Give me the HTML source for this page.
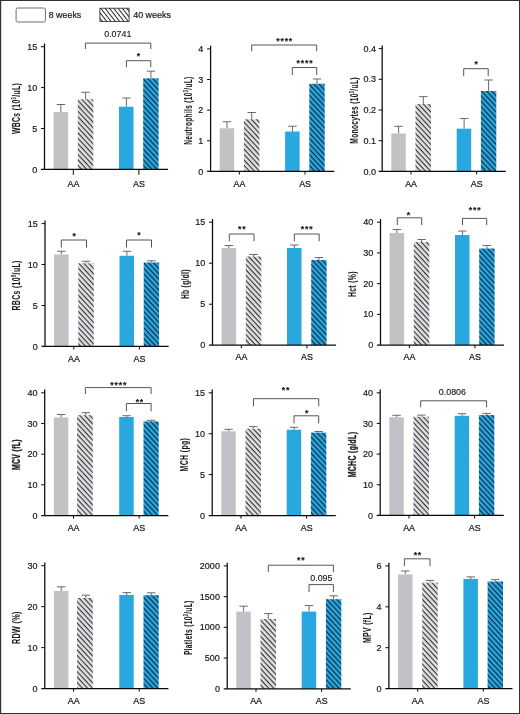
<!DOCTYPE html>
<html lang="en"><head><meta charset="utf-8"><title>Blood counts at 8 and 40 weeks</title>
<style>html,body{margin:0;padding:0;background:#fff;}body{width:520px;height:714px;overflow:hidden;}svg{display:block;}text{font-family:"Liberation Sans", Arial, Helvetica, sans-serif;fill:#161616;stroke:#161616;stroke-width:0.18px;}</style>
</head><body>
<svg width="520" height="714" viewBox="0 0 520 714" role="img" aria-label="Blood count bar charts for AA and AS mice at 8 and 40 weeks">
<defs>
<pattern id="hg" width="3.68" height="3.68" patternUnits="userSpaceOnUse" patternTransform="rotate(47)"><rect width="3.68" height="3.68" fill="#dedee0"/><rect y="0" width="3.68" height="1.05" fill="#2e2e30"/></pattern>
<pattern id="hb" width="3.68" height="3.68" patternUnits="userSpaceOnUse" patternTransform="rotate(47)"><rect width="3.68" height="3.68" fill="#2ca8de"/><rect y="0" width="3.68" height="1.2" fill="#062c49"/></pattern>
<pattern id="hw" width="3.4" height="3.4" patternUnits="userSpaceOnUse" patternTransform="rotate(52)"><rect width="3.4" height="3.4" fill="#ffffff"/><rect y="0" width="3.4" height="0.95" fill="#1c1c1c"/></pattern>
</defs>
<rect x="0" y="0" width="520" height="714" fill="#fff"/>
<rect x="0.5" y="0.5" width="519" height="713" fill="none" stroke="#333" stroke-width="1"/>
<rect x="0" y="0" width="1.2" height="714" fill="#333"/>
<g id="legend">
<rect x="16.1" y="8" width="29.3" height="14" rx="1.6" fill="#fff" stroke="#6e6e6e" stroke-width="1"/>
<text x="48.7" y="17.9" font-size="8.8" textLength="32.6" lengthAdjust="spacingAndGlyphs">8 weeks</text>
<rect x="99.9" y="8.2" width="29.2" height="13.2" fill="url(#hw)" stroke="#222" stroke-width="0.8"/>
<text x="133.2" y="17.9" font-size="8.8" textLength="37.8" lengthAdjust="spacingAndGlyphs">40 weeks</text>
</g>
<g id="chart-WBCs">
<path d="M60.9 112V104.5M56.7 104.5H65.1" stroke="#6a6a6a" stroke-width="1" fill="none"/>
<rect x="53.6" y="112" width="14.5" height="57.4" fill="#c2c1c6"/>
<path d="M85.6 99.25V92.25M81.4 92.25H89.8" stroke="#6a6a6a" stroke-width="1" fill="none"/>
<rect x="77.8" y="99.25" width="15.5" height="70.15" fill="url(#hg)"/>
<path d="M126.4 106.75V98M122.2 98H130.6" stroke="#6a6a6a" stroke-width="1" fill="none"/>
<rect x="119" y="106.75" width="14.5" height="62.65" fill="#29a8e0"/>
<path d="M150.9 78.3V71.2M146.7 71.2H155.1" stroke="#6a6a6a" stroke-width="1" fill="none"/>
<rect x="143.2" y="78.3" width="15.4" height="91.1" fill="url(#hb)"/>
<path d="M44.5 43.5V169.4M41 169.4H168.1" stroke="#0a0a0a" stroke-width="1.25" fill="none"/>
<path d="M41 128.5H44.5M41 87.6H44.5M41 46.7H44.5M73.3 169.4V174.8M138.9 169.4V174.8" stroke="#0a0a0a" stroke-width="1" fill="none"/>
<text x="37.2" y="172.5" font-size="9.0" text-anchor="end">0</text>
<text x="37.2" y="131.6" font-size="9.0" text-anchor="end">5</text>
<text x="37.2" y="90.7" font-size="9.0" text-anchor="end">10</text>
<text x="37.2" y="49.8" font-size="9.0" text-anchor="end">15</text>
<text transform="translate(73.4 186.5) scale(0.9 1)" font-size="9.9" text-anchor="middle" style="stroke-width:0.25px">AA</text>
<text transform="translate(139 186.5) scale(0.9 1)" font-size="9.9" text-anchor="middle" style="stroke-width:0.25px">AS</text>
<text transform="translate(20.3 108.47) rotate(-90) scale(0.6392 1)" font-size="10.7" font-weight="bold" letter-spacing="0.55" text-anchor="middle" style="stroke-width:0.05px">WBCs (10<tspan font-size="6.3" dy="-4">3</tspan><tspan dy="4">/uL)</tspan></text>
<path d="M85.4 49V43.1H150.8V49" stroke="#555555" stroke-width="1" fill="none"/>
<text x="117.8" y="37.25" font-size="8.9" text-anchor="middle" style="stroke-width:0.12px">0.0741</text>
<path d="M126.4 67.2V60.7H150.8V67.2" stroke="#555555" stroke-width="1" fill="none"/>
<text x="138.95" y="59.1" font-size="8.6" font-weight="bold" letter-spacing="0.85" text-anchor="middle" style="stroke-width:0.15px">*</text>
</g>
<g id="chart-Neut">
<path d="M227 128.25V121.75M222.8 121.75H231.2" stroke="#6a6a6a" stroke-width="1" fill="none"/>
<rect x="219.7" y="128.25" width="14.5" height="43.15" fill="#c2c1c6"/>
<path d="M251.7 119.25V112.5M247.5 112.5H255.9" stroke="#6a6a6a" stroke-width="1" fill="none"/>
<rect x="243.9" y="119.25" width="15.5" height="52.15" fill="url(#hg)"/>
<path d="M292.5 131.5V126.25M288.3 126.25H296.7" stroke="#6a6a6a" stroke-width="1" fill="none"/>
<rect x="285.1" y="131.5" width="14.5" height="39.9" fill="#29a8e0"/>
<path d="M317 83.75V79M312.8 79H321.2" stroke="#6a6a6a" stroke-width="1" fill="none"/>
<rect x="309.3" y="83.75" width="15.4" height="87.65" fill="url(#hb)"/>
<path d="M210.6 45.7V171.4M207.1 171.4H334.2" stroke="#0a0a0a" stroke-width="1.25" fill="none"/>
<path d="M207.1 140.78H210.6M207.1 110.15H210.6M207.1 79.53H210.6M207.1 48.9H210.6M239.4 171.4V174.5M305 171.4V174.5" stroke="#0a0a0a" stroke-width="1" fill="none"/>
<text x="203.3" y="174.5" font-size="9.0" text-anchor="end">0</text>
<text x="203.3" y="143.88" font-size="9.0" text-anchor="end">1</text>
<text x="203.3" y="113.25" font-size="9.0" text-anchor="end">2</text>
<text x="203.3" y="82.62" font-size="9.0" text-anchor="end">3</text>
<text x="203.3" y="52" font-size="9.0" text-anchor="end">4</text>
<text transform="translate(239.5 186.6) scale(0.9 1)" font-size="9.9" text-anchor="middle" style="stroke-width:0.25px">AA</text>
<text transform="translate(305.1 186.6) scale(0.9 1)" font-size="9.9" text-anchor="middle" style="stroke-width:0.25px">AS</text>
<text transform="translate(192 110.58) rotate(-90) scale(0.6106 1)" font-size="10.7" font-weight="bold" letter-spacing="0.55" text-anchor="middle" style="stroke-width:0.05px">Neutrophils (10<tspan font-size="6.3" dy="-4">3</tspan><tspan dy="4">/uL)</tspan></text>
<path d="M251.7 51.2V45H316.7V51.2" stroke="#555555" stroke-width="1" fill="none"/>
<text x="284.65" y="43.7" font-size="8.6" font-weight="bold" letter-spacing="0.85" text-anchor="middle" style="stroke-width:0.15px">****</text>
<path d="M292.3 75V67.5H316.7V75" stroke="#555555" stroke-width="1" fill="none"/>
<text x="304.95" y="65.8" font-size="8.6" font-weight="bold" letter-spacing="0.85" text-anchor="middle" style="stroke-width:0.15px">****</text>
</g>
<g id="chart-Mono">
<path d="M398.6 133.5V126.3M394.4 126.3H402.8" stroke="#6a6a6a" stroke-width="1" fill="none"/>
<rect x="391.3" y="133.5" width="14.5" height="37.9" fill="#c2c1c6"/>
<path d="M423.3 104V96.6M419.1 96.6H427.5" stroke="#6a6a6a" stroke-width="1" fill="none"/>
<rect x="415.5" y="104" width="15.5" height="67.4" fill="url(#hg)"/>
<path d="M464.1 128.7V118.5M459.9 118.5H468.3" stroke="#6a6a6a" stroke-width="1" fill="none"/>
<rect x="456.7" y="128.7" width="14.5" height="42.7" fill="#29a8e0"/>
<path d="M488.6 91V80M484.4 80H492.8" stroke="#6a6a6a" stroke-width="1" fill="none"/>
<rect x="480.9" y="91" width="15.4" height="80.4" fill="url(#hb)"/>
<path d="M382.2 45.4V171.4M378.7 171.4H505.8" stroke="#0a0a0a" stroke-width="1.25" fill="none"/>
<path d="M378.7 140.7H382.2M378.7 110H382.2M378.7 79.3H382.2M378.7 48.6H382.2M411 171.4V174.5M476.6 171.4V174.5" stroke="#0a0a0a" stroke-width="1" fill="none"/>
<text x="376" y="174.5" font-size="9.0" text-anchor="end">0.0</text>
<text x="376" y="143.8" font-size="9.0" text-anchor="end">0.1</text>
<text x="376" y="113.1" font-size="9.0" text-anchor="end">0.2</text>
<text x="376" y="82.4" font-size="9.0" text-anchor="end">0.3</text>
<text x="376" y="51.7" font-size="9.0" text-anchor="end">0.4</text>
<text transform="translate(411.1 186.6) scale(0.9 1)" font-size="9.9" text-anchor="middle" style="stroke-width:0.25px">AA</text>
<text transform="translate(476.7 186.6) scale(0.9 1)" font-size="9.9" text-anchor="middle" style="stroke-width:0.25px">AS</text>
<text transform="translate(357.9 110.43) rotate(-90) scale(0.6212 1)" font-size="10.7" font-weight="bold" letter-spacing="0.55" text-anchor="middle" style="stroke-width:0.05px">Monocytes (10<tspan font-size="6.3" dy="-4">3</tspan><tspan dy="4">/uL)</tspan></text>
<path d="M463.7 76.2V68.7H488.2V76.2" stroke="#555555" stroke-width="1" fill="none"/>
<text x="476.65" y="66.9" font-size="8.6" font-weight="bold" letter-spacing="0.85" text-anchor="middle" style="stroke-width:0.15px">*</text>
</g>
<g id="chart-RBCs">
<path d="M61.4 254.5V251.25M57.2 251.25H65.6" stroke="#6a6a6a" stroke-width="1" fill="none"/>
<rect x="54.1" y="254.5" width="14.5" height="91.9" fill="#c2c1c6"/>
<path d="M86.1 263.25V261.25M81.9 261.25H90.3" stroke="#6a6a6a" stroke-width="1" fill="none"/>
<rect x="78.3" y="263.25" width="15.5" height="83.15" fill="url(#hg)"/>
<path d="M126.9 255.75V251.25M122.7 251.25H131.1" stroke="#6a6a6a" stroke-width="1" fill="none"/>
<rect x="119.5" y="255.75" width="14.5" height="90.65" fill="#29a8e0"/>
<path d="M151.4 262.5V260.75M147.2 260.75H155.6" stroke="#6a6a6a" stroke-width="1" fill="none"/>
<rect x="143.7" y="262.5" width="15.4" height="83.9" fill="url(#hb)"/>
<path d="M45 220.4V346.4M41.5 346.4H168.6" stroke="#0a0a0a" stroke-width="1.25" fill="none"/>
<path d="M41.5 305.47H45M41.5 264.53H45M41.5 223.6H45M73.8 346.4V349.5M139.4 346.4V349.5" stroke="#0a0a0a" stroke-width="1" fill="none"/>
<text x="37.7" y="349.5" font-size="9.0" text-anchor="end">0</text>
<text x="37.7" y="308.57" font-size="9.0" text-anchor="end">5</text>
<text x="37.7" y="267.63" font-size="9.0" text-anchor="end">10</text>
<text x="37.7" y="226.7" font-size="9.0" text-anchor="end">15</text>
<text transform="translate(73.9 361.6) scale(0.9 1)" font-size="9.9" text-anchor="middle" style="stroke-width:0.25px">AA</text>
<text transform="translate(139.5 361.6) scale(0.9 1)" font-size="9.9" text-anchor="middle" style="stroke-width:0.25px">AS</text>
<text transform="translate(20.3 285.42) rotate(-90) scale(0.6446 1)" font-size="10.7" font-weight="bold" letter-spacing="0.55" text-anchor="middle" style="stroke-width:0.05px">RBCs (10<tspan font-size="6.3" dy="-4">6</tspan><tspan dy="4">/uL)</tspan></text>
<path d="M61.3 247.5V240H86.5V247.5" stroke="#555555" stroke-width="1" fill="none"/>
<text x="74.65" y="238.6" font-size="8.6" font-weight="bold" letter-spacing="0.85" text-anchor="middle" style="stroke-width:0.15px">*</text>
<path d="M126.5 247.5V240H151.5V247.5" stroke="#555555" stroke-width="1" fill="none"/>
<text x="139.45" y="238.4" font-size="8.6" font-weight="bold" letter-spacing="0.85" text-anchor="middle" style="stroke-width:0.15px">*</text>
</g>
<g id="chart-Hb">
<path d="M228.9 248V245.5M224.7 245.5H233.1" stroke="#6a6a6a" stroke-width="1" fill="none"/>
<rect x="221.6" y="248" width="14.5" height="97.2" fill="#c2c1c6"/>
<path d="M253.6 256.5V254.5M249.4 254.5H257.8" stroke="#6a6a6a" stroke-width="1" fill="none"/>
<rect x="245.8" y="256.5" width="15.5" height="88.7" fill="url(#hg)"/>
<path d="M294.4 248V245M290.2 245H298.6" stroke="#6a6a6a" stroke-width="1" fill="none"/>
<rect x="287" y="248" width="14.5" height="97.2" fill="#29a8e0"/>
<path d="M318.9 260V257.5M314.7 257.5H323.1" stroke="#6a6a6a" stroke-width="1" fill="none"/>
<rect x="311.2" y="260" width="15.4" height="85.2" fill="url(#hb)"/>
<path d="M212.5 219V345.2M209 345.2H336.1" stroke="#0a0a0a" stroke-width="1.25" fill="none"/>
<path d="M209 304.2H212.5M209 263.2H212.5M209 222.2H212.5M241.3 345.2V348.3M306.9 345.2V348.3" stroke="#0a0a0a" stroke-width="1" fill="none"/>
<text x="205.2" y="348.3" font-size="9.0" text-anchor="end">0</text>
<text x="205.2" y="307.3" font-size="9.0" text-anchor="end">5</text>
<text x="205.2" y="266.3" font-size="9.0" text-anchor="end">10</text>
<text x="205.2" y="225.3" font-size="9.0" text-anchor="end">15</text>
<text transform="translate(241.4 360.4) scale(0.9 1)" font-size="9.9" text-anchor="middle" style="stroke-width:0.25px">AA</text>
<text transform="translate(307 360.4) scale(0.9 1)" font-size="9.9" text-anchor="middle" style="stroke-width:0.25px">AS</text>
<text transform="translate(189.1 284.13) rotate(-90) scale(0.6180 1)" font-size="10.7" font-weight="bold" letter-spacing="0.55" text-anchor="middle" style="stroke-width:0.05px">Hb (g/dl)</text>
<path d="M229.3 241.3V234H254V241.3" stroke="#555555" stroke-width="1" fill="none"/>
<text x="242.15" y="232.4" font-size="8.6" font-weight="bold" letter-spacing="0.85" text-anchor="middle" style="stroke-width:0.15px">**</text>
<path d="M294.3 241.3V234H319.2V241.3" stroke="#555555" stroke-width="1" fill="none"/>
<text x="307.15" y="232.4" font-size="8.6" font-weight="bold" letter-spacing="0.85" text-anchor="middle" style="stroke-width:0.15px">***</text>
</g>
<g id="chart-Hct">
<path d="M396.9 233V229.5M392.7 229.5H401.1" stroke="#6a6a6a" stroke-width="1" fill="none"/>
<rect x="389.6" y="233" width="14.5" height="112.1" fill="#c2c1c6"/>
<path d="M421.6 242V239.5M417.4 239.5H425.8" stroke="#6a6a6a" stroke-width="1" fill="none"/>
<rect x="413.8" y="242" width="15.5" height="103.1" fill="url(#hg)"/>
<path d="M462.4 235V231M458.2 231H466.6" stroke="#6a6a6a" stroke-width="1" fill="none"/>
<rect x="455" y="235" width="14.5" height="110.1" fill="#29a8e0"/>
<path d="M486.9 248.5V245.5M482.7 245.5H491.1" stroke="#6a6a6a" stroke-width="1" fill="none"/>
<rect x="479.2" y="248.5" width="15.4" height="96.6" fill="url(#hb)"/>
<path d="M380.5 219V345.1M377 345.1H504.1" stroke="#0a0a0a" stroke-width="1.25" fill="none"/>
<path d="M377 314.38H380.5M377 283.65H380.5M377 252.93H380.5M377 222.2H380.5M409.3 345.1V348.2M474.9 345.1V348.2" stroke="#0a0a0a" stroke-width="1" fill="none"/>
<text x="373.2" y="348.2" font-size="9.0" text-anchor="end">0</text>
<text x="373.2" y="317.48" font-size="9.0" text-anchor="end">10</text>
<text x="373.2" y="286.75" font-size="9.0" text-anchor="end">20</text>
<text x="373.2" y="256.03" font-size="9.0" text-anchor="end">30</text>
<text x="373.2" y="225.3" font-size="9.0" text-anchor="end">40</text>
<text transform="translate(409.4 360.3) scale(0.9 1)" font-size="9.9" text-anchor="middle" style="stroke-width:0.25px">AA</text>
<text transform="translate(475 360.3) scale(0.9 1)" font-size="9.9" text-anchor="middle" style="stroke-width:0.25px">AS</text>
<text transform="translate(356.1 284.07) rotate(-90) scale(0.6391 1)" font-size="10.7" font-weight="bold" letter-spacing="0.55" text-anchor="middle" style="stroke-width:0.05px">Hct (%)</text>
<path d="M397.3 225V217.8H421.7V225" stroke="#555555" stroke-width="1" fill="none"/>
<text x="408.85" y="218.2" font-size="8.6" font-weight="bold" letter-spacing="0.85" text-anchor="middle" style="stroke-width:0.15px">*</text>
<path d="M462.5 225V218.4H486.7V225" stroke="#555555" stroke-width="1" fill="none"/>
<text x="475.05" y="213.2" font-size="8.6" font-weight="bold" letter-spacing="0.85" text-anchor="middle" style="stroke-width:0.15px">***</text>
</g>
<g id="chart-MCV">
<path d="M61.1 417.5V414.5M56.9 414.5H65.3" stroke="#6a6a6a" stroke-width="1" fill="none"/>
<rect x="53.8" y="417.5" width="14.5" height="98" fill="#c2c1c6"/>
<path d="M85.8 415.1V412.7M81.6 412.7H90" stroke="#6a6a6a" stroke-width="1" fill="none"/>
<rect x="77.1" y="415.1" width="15.7" height="100.4" fill="url(#hg)"/>
<path d="M126.6 417V415.7M122.4 415.7H130.8" stroke="#6a6a6a" stroke-width="1" fill="none"/>
<rect x="119.2" y="417" width="14.5" height="98.5" fill="#29a8e0"/>
<path d="M151.1 421.4V420.3M146.9 420.3H155.3" stroke="#6a6a6a" stroke-width="1" fill="none"/>
<rect x="143.5" y="421.4" width="15.2" height="94.1" fill="url(#hb)"/>
<path d="M44.7 389.6V515.5M41.2 515.5H168.3" stroke="#0a0a0a" stroke-width="1.25" fill="none"/>
<path d="M41.2 484.82H44.7M41.2 454.15H44.7M41.2 423.48H44.7M41.2 392.8H44.7M73.5 515.5V518.6M139.1 515.5V518.6" stroke="#0a0a0a" stroke-width="1" fill="none"/>
<text x="37.4" y="518.6" font-size="9.0" text-anchor="end">0</text>
<text x="37.4" y="487.93" font-size="9.0" text-anchor="end">10</text>
<text x="37.4" y="457.25" font-size="9.0" text-anchor="end">20</text>
<text x="37.4" y="426.58" font-size="9.0" text-anchor="end">30</text>
<text x="37.4" y="395.9" font-size="9.0" text-anchor="end">40</text>
<text transform="translate(73.6 530.7) scale(0.9 1)" font-size="9.9" text-anchor="middle" style="stroke-width:0.25px">AA</text>
<text transform="translate(139.2 530.7) scale(0.9 1)" font-size="9.9" text-anchor="middle" style="stroke-width:0.25px">AS</text>
<text transform="translate(20.4 454.57) rotate(-90) scale(0.6440 1)" font-size="10.7" font-weight="bold" letter-spacing="0.55" text-anchor="middle" style="stroke-width:0.35px">MCV (fL)</text>
<path d="M85.4 394V387.6H151.1V394" stroke="#555555" stroke-width="1" fill="none"/>
<text x="118.75" y="387.7" font-size="8.6" font-weight="bold" letter-spacing="0.85" text-anchor="middle" style="stroke-width:0.15px">****</text>
<path d="M126.4 411.3V403.5H151.1V411.3" stroke="#555555" stroke-width="1" fill="none"/>
<text x="139.85" y="405" font-size="8.6" font-weight="bold" letter-spacing="0.85" text-anchor="middle" style="stroke-width:0.15px">**</text>
</g>
<g id="chart-MCH">
<path d="M228.6 431.3V429.3M224.4 429.3H232.8" stroke="#6a6a6a" stroke-width="1" fill="none"/>
<rect x="221.3" y="431.3" width="14.5" height="84.2" fill="#c2c1c6"/>
<path d="M253.3 428.6V426.6M249.1 426.6H257.5" stroke="#6a6a6a" stroke-width="1" fill="none"/>
<rect x="245.5" y="428.6" width="15.5" height="86.9" fill="url(#hg)"/>
<path d="M294.1 429.7V427.3M289.9 427.3H298.3" stroke="#6a6a6a" stroke-width="1" fill="none"/>
<rect x="286.7" y="429.7" width="14.5" height="85.8" fill="#29a8e0"/>
<path d="M318.6 432.6V431.5M314.4 431.5H322.8" stroke="#6a6a6a" stroke-width="1" fill="none"/>
<rect x="310.9" y="432.6" width="15.4" height="82.9" fill="url(#hb)"/>
<path d="M212.2 389.6V515.5M208.7 515.5H335.8" stroke="#0a0a0a" stroke-width="1.25" fill="none"/>
<path d="M208.7 474.6H212.2M208.7 433.7H212.2M208.7 392.8H212.2M241 515.5V518.6M306.6 515.5V518.6" stroke="#0a0a0a" stroke-width="1" fill="none"/>
<text x="204.9" y="518.6" font-size="9.0" text-anchor="end">0</text>
<text x="204.9" y="477.7" font-size="9.0" text-anchor="end">5</text>
<text x="204.9" y="436.8" font-size="9.0" text-anchor="end">10</text>
<text x="204.9" y="395.9" font-size="9.0" text-anchor="end">15</text>
<text transform="translate(241.1 530.7) scale(0.9 1)" font-size="9.9" text-anchor="middle" style="stroke-width:0.25px">AA</text>
<text transform="translate(306.7 530.7) scale(0.9 1)" font-size="9.9" text-anchor="middle" style="stroke-width:0.25px">AS</text>
<text transform="translate(188.4 454.57) rotate(-90) scale(0.6493 1)" font-size="10.7" font-weight="bold" letter-spacing="0.55" text-anchor="middle" style="stroke-width:0.05px">MCH (pg)</text>
<path d="M253.5 406.3V398.7H318.7V406.3" stroke="#555555" stroke-width="1" fill="none"/>
<text x="285.95" y="393.1" font-size="8.6" font-weight="bold" letter-spacing="0.85" text-anchor="middle" style="stroke-width:0.15px">**</text>
<path d="M294 423.3V415.8H318.7V423.3" stroke="#555555" stroke-width="1" fill="none"/>
<text x="307.05" y="416.4" font-size="8.6" font-weight="bold" letter-spacing="0.85" text-anchor="middle" style="stroke-width:0.15px">*</text>
</g>
<g id="chart-MCHC">
<path d="M396.6 417.2V415.3M392.4 415.3H400.8" stroke="#6a6a6a" stroke-width="1" fill="none"/>
<rect x="389.3" y="417.2" width="14.5" height="98.2" fill="#c2c1c6"/>
<path d="M421.3 416.7V415.1M417.1 415.1H425.5" stroke="#6a6a6a" stroke-width="1" fill="none"/>
<rect x="413.5" y="416.7" width="15.5" height="98.7" fill="url(#hg)"/>
<path d="M462.1 415.8V413.7M457.9 413.7H466.3" stroke="#6a6a6a" stroke-width="1" fill="none"/>
<rect x="454.7" y="415.8" width="14.5" height="99.6" fill="#29a8e0"/>
<path d="M486.6 415.1V413.4M482.4 413.4H490.8" stroke="#6a6a6a" stroke-width="1" fill="none"/>
<rect x="478.9" y="415.1" width="15.4" height="100.3" fill="url(#hb)"/>
<path d="M380.2 389.6V515.4M376.7 515.4H503.8" stroke="#0a0a0a" stroke-width="1.25" fill="none"/>
<path d="M376.7 484.75H380.2M376.7 454.1H380.2M376.7 423.45H380.2M376.7 392.8H380.2M409 515.4V518.5M474.6 515.4V518.5" stroke="#0a0a0a" stroke-width="1" fill="none"/>
<text x="372.9" y="518.5" font-size="9.0" text-anchor="end">0</text>
<text x="372.9" y="487.85" font-size="9.0" text-anchor="end">10</text>
<text x="372.9" y="457.2" font-size="9.0" text-anchor="end">20</text>
<text x="372.9" y="426.55" font-size="9.0" text-anchor="end">30</text>
<text x="372.9" y="395.9" font-size="9.0" text-anchor="end">40</text>
<text transform="translate(409.1 530.6) scale(0.9 1)" font-size="9.9" text-anchor="middle" style="stroke-width:0.25px">AA</text>
<text transform="translate(474.7 530.6) scale(0.9 1)" font-size="9.9" text-anchor="middle" style="stroke-width:0.25px">AS</text>
<text transform="translate(356.1 454.52) rotate(-90) scale(0.6453 1)" font-size="10.7" font-weight="bold" letter-spacing="0.55" text-anchor="middle" style="stroke-width:0.3px">MCHC (g/dL)</text>
<path d="M420.7 407.3V400.8H486.6V407.3" stroke="#555555" stroke-width="1" fill="none"/>
<text x="452.4" y="394.65" font-size="8.9" text-anchor="middle" style="stroke-width:0.12px">0.0806</text>
</g>
<g id="chart-RDW">
<path d="M61.2 591V586.8M57 586.8H65.4" stroke="#6a6a6a" stroke-width="1" fill="none"/>
<rect x="53.9" y="591" width="14.5" height="97.6" fill="#c2c1c6"/>
<path d="M85.9 598V595.2M81.7 595.2H90.1" stroke="#6a6a6a" stroke-width="1" fill="none"/>
<rect x="77" y="598" width="15.8" height="90.6" fill="url(#hg)"/>
<path d="M126.7 595V592.6M122.5 592.6H130.9" stroke="#6a6a6a" stroke-width="1" fill="none"/>
<rect x="119.3" y="595" width="14.4" height="93.6" fill="#29a8e0"/>
<path d="M151.2 595.2V592.8M147 592.8H155.4" stroke="#6a6a6a" stroke-width="1" fill="none"/>
<rect x="143.5" y="595.2" width="15.2" height="93.4" fill="url(#hb)"/>
<path d="M44.8 562.5V688.6M41.3 688.6H168.4" stroke="#0a0a0a" stroke-width="1.25" fill="none"/>
<path d="M41.3 647.63H44.8M41.3 606.67H44.8M41.3 565.7H44.8M73.6 688.6V691.7M139.2 688.6V691.7" stroke="#0a0a0a" stroke-width="1" fill="none"/>
<text x="37.5" y="691.7" font-size="9.0" text-anchor="end">0</text>
<text x="37.5" y="650.73" font-size="9.0" text-anchor="end">10</text>
<text x="37.5" y="609.77" font-size="9.0" text-anchor="end">20</text>
<text x="37.5" y="568.8" font-size="9.0" text-anchor="end">30</text>
<text transform="translate(73.7 703.8) scale(0.9 1)" font-size="9.9" text-anchor="middle" style="stroke-width:0.25px">AA</text>
<text transform="translate(139.3 703.8) scale(0.9 1)" font-size="9.9" text-anchor="middle" style="stroke-width:0.25px">AS</text>
<text transform="translate(20.4 627.57) rotate(-90) scale(0.6706 1)" font-size="10.7" font-weight="bold" letter-spacing="0.55" text-anchor="middle" style="stroke-width:0.05px">RDW (%)</text>
</g>
<g id="chart-Plt">
<path d="M243.6 611.6V606.2M239.4 606.2H247.8" stroke="#6a6a6a" stroke-width="1" fill="none"/>
<rect x="236.3" y="611.6" width="14.5" height="77.2" fill="#c2c1c6"/>
<path d="M268.3 619V613.6M264.1 613.6H272.5" stroke="#6a6a6a" stroke-width="1" fill="none"/>
<rect x="260.5" y="619" width="15.5" height="69.8" fill="url(#hg)"/>
<path d="M309.1 611.6V605.6M304.9 605.6H313.3" stroke="#6a6a6a" stroke-width="1" fill="none"/>
<rect x="301.7" y="611.6" width="14.5" height="77.2" fill="#29a8e0"/>
<path d="M333.6 599.2V595.8M329.4 595.8H337.8" stroke="#6a6a6a" stroke-width="1" fill="none"/>
<rect x="325.9" y="599.2" width="15.4" height="89.6" fill="url(#hb)"/>
<path d="M227.2 562.7V688.8M223.7 688.8H350.8" stroke="#0a0a0a" stroke-width="1.25" fill="none"/>
<path d="M223.7 658.07H227.2M223.7 627.35H227.2M223.7 596.62H227.2M223.7 565.9H227.2M256 688.8V691.9M321.6 688.8V691.9" stroke="#0a0a0a" stroke-width="1" fill="none"/>
<text x="219.9" y="691.9" font-size="9.0" text-anchor="end">0</text>
<text x="219.9" y="661.17" font-size="9.0" text-anchor="end">500</text>
<text x="219.9" y="630.45" font-size="9.0" text-anchor="end">1000</text>
<text x="219.9" y="599.73" font-size="9.0" text-anchor="end">1500</text>
<text x="219.9" y="569" font-size="9.0" text-anchor="end">2000</text>
<text transform="translate(256.1 704) scale(0.9 1)" font-size="9.9" text-anchor="middle" style="stroke-width:0.25px">AA</text>
<text transform="translate(321.7 704) scale(0.9 1)" font-size="9.9" text-anchor="middle" style="stroke-width:0.25px">AS</text>
<text transform="translate(192.3 627.78) rotate(-90) scale(0.6148 1)" font-size="10.7" font-weight="bold" letter-spacing="0.55" text-anchor="middle" style="stroke-width:0.05px">Platlets (10<tspan font-size="6.3" dy="-4">3</tspan><tspan dy="4">/uL)</tspan></text>
<path d="M268.3 572.1V565.2H333.4V572.1" stroke="#555555" stroke-width="1" fill="none"/>
<text x="301.25" y="562.7" font-size="8.6" font-weight="bold" letter-spacing="0.85" text-anchor="middle" style="stroke-width:0.15px">**</text>
<path d="M309 592V584.6H333.4V592" stroke="#555555" stroke-width="1" fill="none"/>
<text x="321.4" y="580.65" font-size="8.9" text-anchor="middle" style="stroke-width:0.12px">0.095</text>
</g>
<g id="chart-MPV">
<path d="M405.3 574.4V571M401.1 571H409.5" stroke="#6a6a6a" stroke-width="1" fill="none"/>
<rect x="398" y="574.4" width="14.5" height="114.2" fill="#c2c1c6"/>
<path d="M430 582.6V580.4M425.8 580.4H434.2" stroke="#6a6a6a" stroke-width="1" fill="none"/>
<rect x="422.2" y="582.6" width="15.5" height="106" fill="url(#hg)"/>
<path d="M470.8 578.9V576.9M466.6 576.9H475" stroke="#6a6a6a" stroke-width="1" fill="none"/>
<rect x="463.4" y="578.9" width="14.5" height="109.7" fill="#29a8e0"/>
<path d="M495.3 581.5V579.6M491.1 579.6H499.5" stroke="#6a6a6a" stroke-width="1" fill="none"/>
<rect x="487.6" y="581.5" width="15.4" height="107.1" fill="url(#hb)"/>
<path d="M388.9 562.7V688.6M385.4 688.6H512.5" stroke="#0a0a0a" stroke-width="1.25" fill="none"/>
<path d="M385.4 647.7H388.9M385.4 606.8H388.9M385.4 565.9H388.9M417.7 688.6V691.7M483.3 688.6V691.7" stroke="#0a0a0a" stroke-width="1" fill="none"/>
<text x="381.6" y="691.7" font-size="9.0" text-anchor="end">0</text>
<text x="381.6" y="650.8" font-size="9.0" text-anchor="end">2</text>
<text x="381.6" y="609.9" font-size="9.0" text-anchor="end">4</text>
<text x="381.6" y="569" font-size="9.0" text-anchor="end">6</text>
<text transform="translate(417.8 703.8) scale(0.9 1)" font-size="9.9" text-anchor="middle" style="stroke-width:0.25px">AA</text>
<text transform="translate(483.4 703.8) scale(0.9 1)" font-size="9.9" text-anchor="middle" style="stroke-width:0.25px">AS</text>
<text transform="translate(370.6 627.67) rotate(-90) scale(0.6431 1)" font-size="10.7" font-weight="bold" letter-spacing="0.55" text-anchor="middle" style="stroke-width:0.05px">MPV (fL)</text>
<path d="M404.4 566.3V558.8H430V566.3" stroke="#555555" stroke-width="1" fill="none"/>
<text x="417.85" y="557.5" font-size="8.6" font-weight="bold" letter-spacing="0.85" text-anchor="middle" style="stroke-width:0.15px">**</text>
</g>
</svg>
</body></html>
